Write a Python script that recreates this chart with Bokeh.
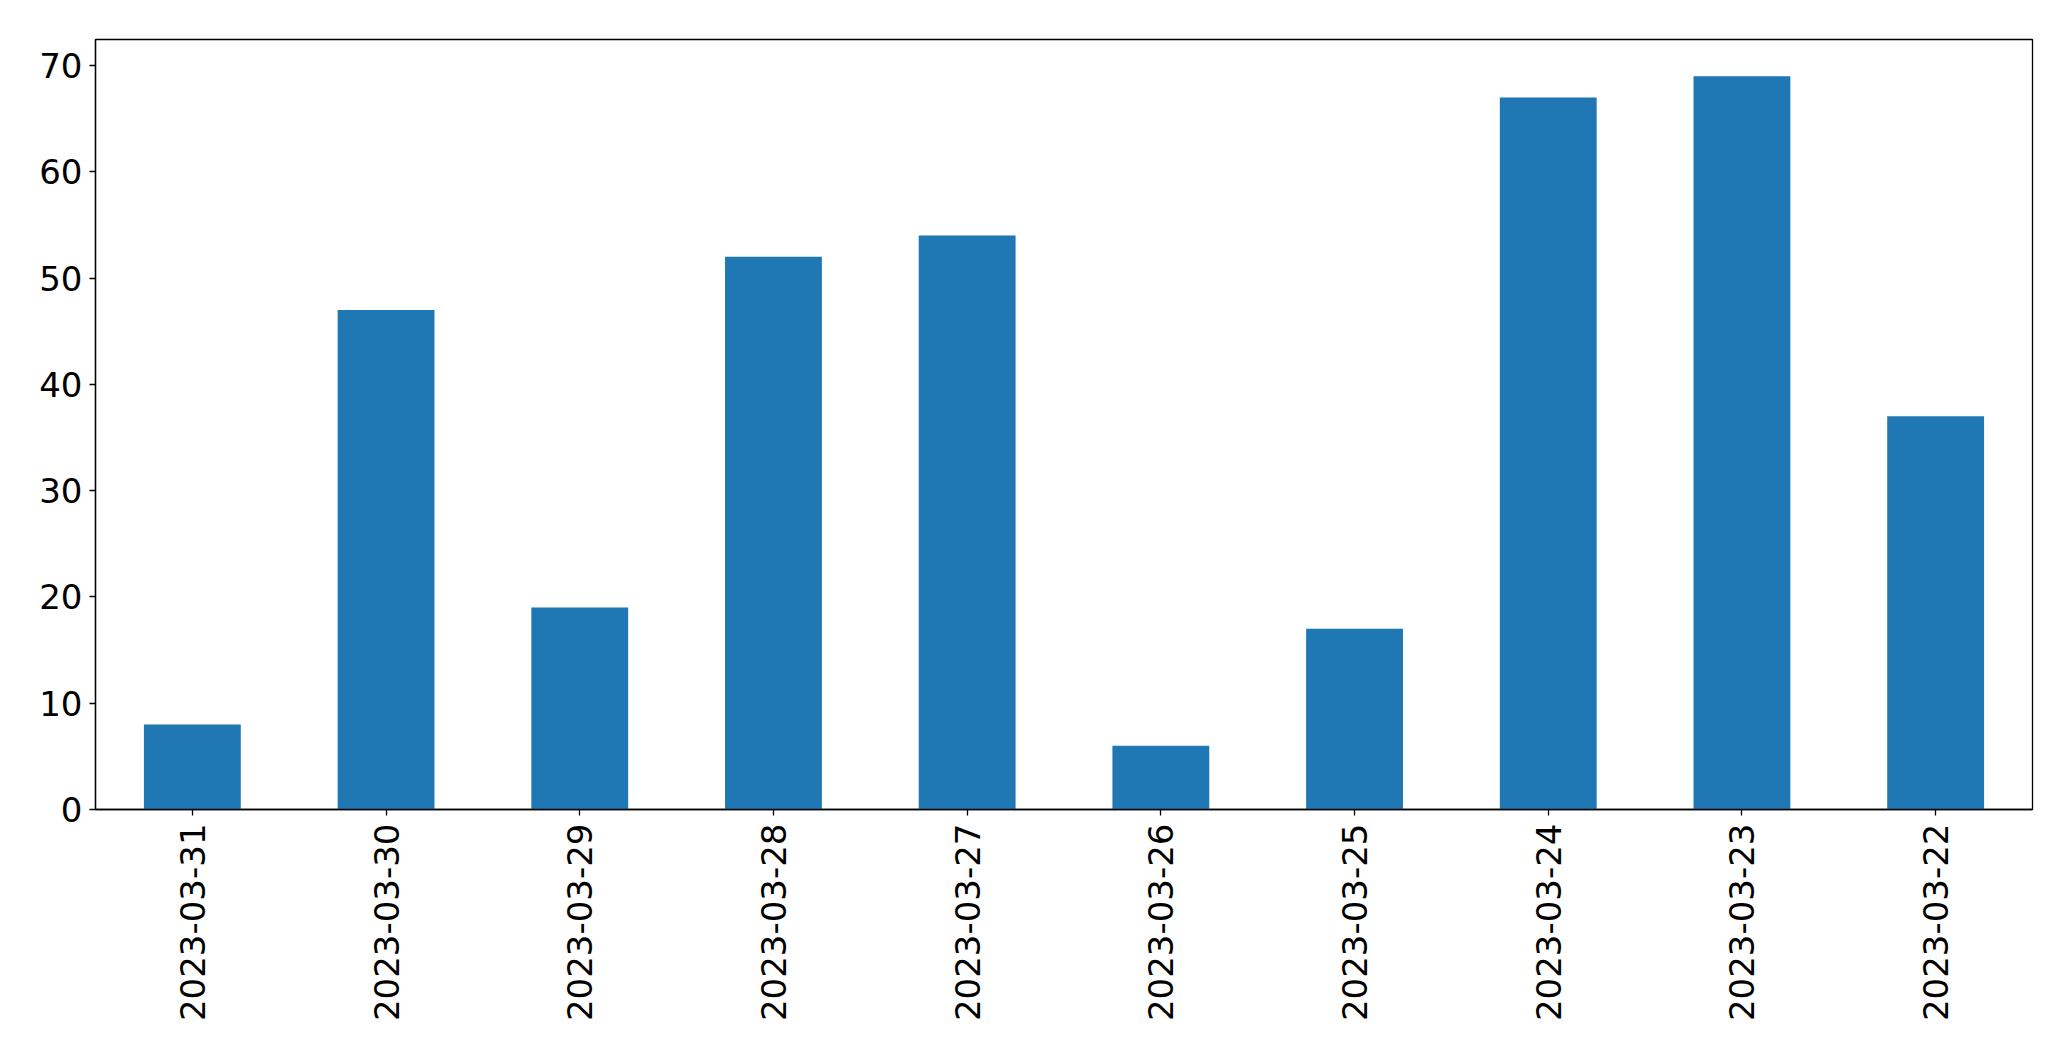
import math
from bokeh.plotting import figure
from bokeh.models import Range1d, FactorRange, FixedTicker, ColumnDataSource
from bokeh.embed import file_html
from bokeh.resources import INLINE

dates = ["2023-03-31", "2023-03-30", "2023-03-29", "2023-03-28", "2023-03-27",
         "2023-03-26", "2023-03-25", "2023-03-24", "2023-03-23", "2023-03-22"]
counts = [8, 47, 19, 52, 54, 6, 17, 67, 69, 37]
y_ticks = [0, 10, 20, 30, 40, 50, 60, 70]

src = ColumnDataSource(dict(date=dates, count=counts))

p = figure(width=2055, height=1045, output_backend="svg", toolbar_location=None,
           x_range=FactorRange(factors=dates, range_padding=0),
           y_range=Range1d(0, max(counts) * 1.05),
           min_border_left=95, min_border_right=23, min_border_top=39, min_border_bottom=236)

p.vbar(x="date", top="count", width=0.5, source=src, color="#1f77b4", line_color=None)

p.xgrid.visible = False
p.ygrid.visible = False
p.outline_line_color = "black"
p.outline_line_width = 1.3
p.outline_line_alpha = 1

for ax in (p.xaxis[0], p.yaxis[0]):
    ax.axis_line_color = "black"
    ax.axis_line_width = 1.3
    ax.major_tick_line_color = "black"
    ax.major_tick_line_width = 1.3
    ax.major_tick_in = 0
    ax.major_tick_out = 6
    ax.minor_tick_line_color = None
    ax.major_label_text_font = "DejaVu Sans"
    ax.major_label_text_font_size = "34px"
    ax.major_label_text_color = "black"

p.yaxis[0].ticker = FixedTicker(ticks=y_ticks)
p.yaxis[0].major_label_standoff = 7
p.xaxis[0].major_label_orientation = math.pi / 2
p.xaxis[0].major_label_standoff = 8

open("out.html", "w").write(file_html(p, INLINE))
